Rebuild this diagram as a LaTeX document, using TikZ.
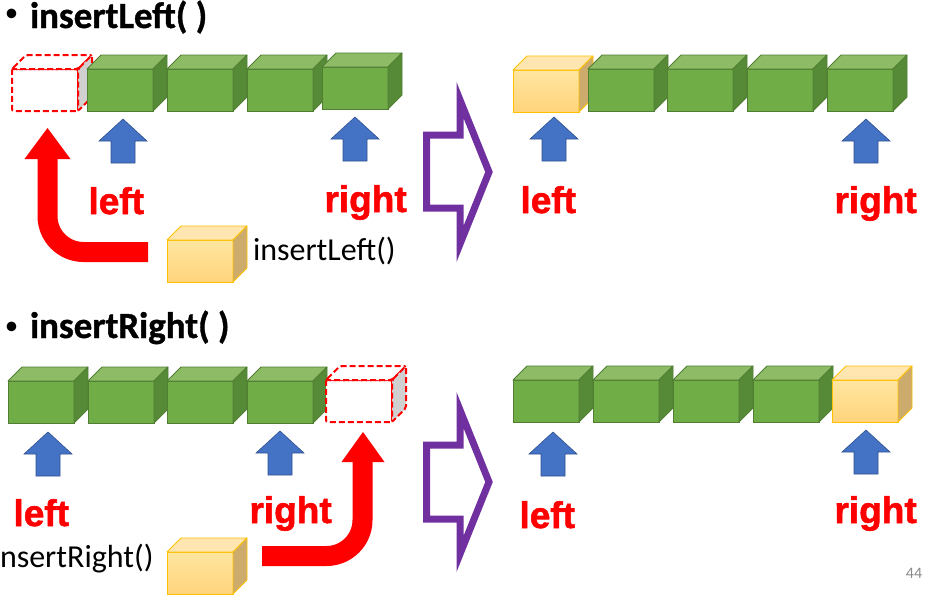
\documentclass[tikz,border=0pt]{standalone}
\usepackage{fontspec}
\setmainfont{Carlito}
\newfontfamily\labfont{Liberation Sans Bold}[FakeBold=1.6]
\newfontfamily\ttlfont{Carlito Bold}[FakeBold=1]
\usetikzlibrary{calc}
\definecolor{gfrontc}{HTML}{70AD47}
\definecolor{gtopc}{HTML}{8DBB66}
\definecolor{gsidec}{HTML}{578A36}
\definecolor{glinec}{HTML}{507E32}
\definecolor{yfront1}{HTML}{FFE6A0}
\definecolor{yfront2}{HTML}{FFD47C}
\definecolor{ytopc}{HTML}{FFE6B0}
\definecolor{ysidec}{HTML}{CDAB6C}
\definecolor{ylinec}{HTML}{FFC000}
\definecolor{dgray}{HTML}{D0D0D0}
\definecolor{blueA}{HTML}{4472C4}
\definecolor{blueL}{HTML}{2F528F}
\definecolor{purp}{HTML}{7030A0}
\definecolor{pgnum}{HTML}{898989}
\tikzset{
 every node/.style={inner sep=0pt, outer sep=0pt},
 boxbase/.style={minimum width=66pt, minimum height=42pt, anchor=north west},
 gF/.style={boxbase, fill=gfrontc, draw=glinec, line width=0.8pt},
 gT/.style={fill=gtopc, draw=glinec, line width=0.8pt, line join=round},
 gS/.style={fill=gsidec, draw=glinec, line width=0.8pt, line join=round},
 yF/.style={boxbase, top color=yfront1, bottom color=yfront2, draw=ylinec, line width=0.8pt},
 yT/.style={fill=ytopc, draw=ylinec, line width=0.8pt, line join=round},
 yS/.style={fill=ysidec, draw=ylinec, line width=0.8pt, line join=round},
 dF/.style={boxbase, fill=white, draw=red, line width=2pt, dash pattern=on 6pt off 3pt, rounded corners=2pt},
 dT/.style={fill=white, draw=red, line width=2pt, dash pattern=on 6pt off 3pt, rounded corners=2pt},
 dS/.style={fill=dgray, draw=red, line width=2pt, dash pattern=on 6pt off 3pt, rounded corners=2pt},
 ptr/.style={fill=blueA, draw=blueL, line width=0.6pt},
 lab/.style={font=\labfont\fontsize{37}{40}\selectfont, text=red, anchor=base west},
 ttl/.style={font=\ttlfont\fontsize{37}{40}\selectfont, anchor=base west},
 bul/.style={font=\fontsize{27}{30}\selectfont},
 callt/.style={font=\fontsize{32}{36}\selectfont},
 band/.style={draw=red, line width=20pt, rounded corners=36pt},
 bandhead/.style={fill=red},
 bigarrow/.style={draw=purp, line width=7pt, line join=miter, miter limit=10},
 pagenum/.style={font=\fontsize{16}{18}\selectfont, text=pgnum}
}
\newcommand\mycube[4]{%
 \node[#4F] (#1) at (#2,#3) {};
 \draw[#4T] (#1.north west) -- ($(#1.north west)+(14,-14)$) -- ($(#1.north east)+(14,-14)$) -- (#1.north east) -- cycle;
 \draw[#4S] (#1.north east) -- ($(#1.north east)+(14,-14)$) -- ($(#1.south east)+(14,-14)$) -- (#1.south east) -- cycle;
}
\newcommand\bluearrow[3]{%
 \coordinate (#1) at (#2,#3);
 \draw[ptr] (#1) -- ++(24,22) -- ++(-12,0) -- ++(0,22) -- ++(-24,0) -- ++(0,-22) -- ++(-12,0) -- cycle;
}
\begin{document}
\begin{tikzpicture}[x=1pt,y=-1pt]
\useasboundingbox (0,0) rectangle (929,597);
\clip (0,0) rectangle (929,597);

% titles
\node[bul] (b1) at (11.5,15.5) {•};
\node[ttl] (t1) at (30,28) {insertLeft( )};
\node[bul] (b2) at (11.5,328.5) {•};
\node[ttl] (t2) at (30,338) {insertRight( )};

% ---------- top left ----------
\mycube{dl}{12}{69}{d}
\mycube{a1}{87}{69}{g}
\mycube{a2}{167}{69}{g}
\mycube{a3}{247}{69}{g}
\mycube{a4}{322}{67}{g}
\bluearrow{pa1}{123}{119}
\bluearrow{pa2}{355}{117}
\node[lab] (la1) at (88.5,214) {left};
\node[lab] (ra1) at (324.5,212) {right};
\mycube{ya}{167}{240}{y}
\node[callt, anchor=base west] (ca) at (253,260) {insertLeft()};
\coordinate (rs1) at (148,252);
\coordinate (rc1) at (47.5,252);
\coordinate (re1) at (47.5,157);
\draw[band] (rs1) -- (rc1) -- (re1);
\fill[bandhead] (24.5,159) -- (47.5,128) -- (70.5,159) -- cycle;

% purple arrow top
\draw[bigarrow] (426.5,135) -- (460,135) -- (460,100) -- (489,172) -- (460,244) -- (460,208) -- (426.5,208) -- cycle;

% ---------- top right ----------
\mycube{b1c}{513}{70}{y}
\mycube{b2c}{588}{69}{g}
\mycube{b3c}{667}{69}{g}
\mycube{b4c}{747}{69}{g}
\mycube{b5c}{827}{69}{g}
\bluearrow{pb1}{554}{117}
\bluearrow{pb2}{866}{119}
\node[lab] (lb1) at (520.5,213) {left};
\node[lab] (rb1) at (834.5,213) {right};

% ---------- bottom left ----------
\mycube{c1}{8}{381}{g}
\mycube{c2}{88}{381}{g}
\mycube{c3}{167}{381}{g}
\mycube{c4}{247}{381}{g}
\mycube{dr}{326}{380}{d}
\bluearrow{pc1}{48}{432}
\bluearrow{pc2}{280}{431}
\node[lab] (lc1) at (13.5,526) {left};
\node[lab] (rc1l) at (249.5,523) {right};
\mycube{yc}{167}{552}{y}
\node[callt, anchor=base west] (cc) at (0,567) {nsertRight()};
\coordinate (rs2) at (262,556);
\coordinate (rc2) at (362.5,556);
\coordinate (re2) at (362.5,460);
\draw[band] (rs2) -- (rc2) -- (re2);
\fill[bandhead] (341.5,462) -- (363,432) -- (384.5,462) -- cycle;

% purple arrow bottom
\draw[bigarrow] (426.5,445) -- (460,445) -- (460,410) -- (489,482) -- (460,554) -- (460,519) -- (426.5,519) -- cycle;

% ---------- bottom right ----------
\mycube{d1}{513}{380}{g}
\mycube{d2}{593}{380}{g}
\mycube{d3}{673}{380}{g}
\mycube{d4}{753}{380}{g}
\mycube{d5}{832}{380}{y}
\bluearrow{pd1}{553}{432}
\bluearrow{pd2}{866}{430}
\node[lab] (ld1) at (519.5,528) {left};
\node[lab] (rd1) at (834.5,523) {right};

\node[pagenum] (pg) at (914,573) {44};
\end{tikzpicture}
\end{document}
